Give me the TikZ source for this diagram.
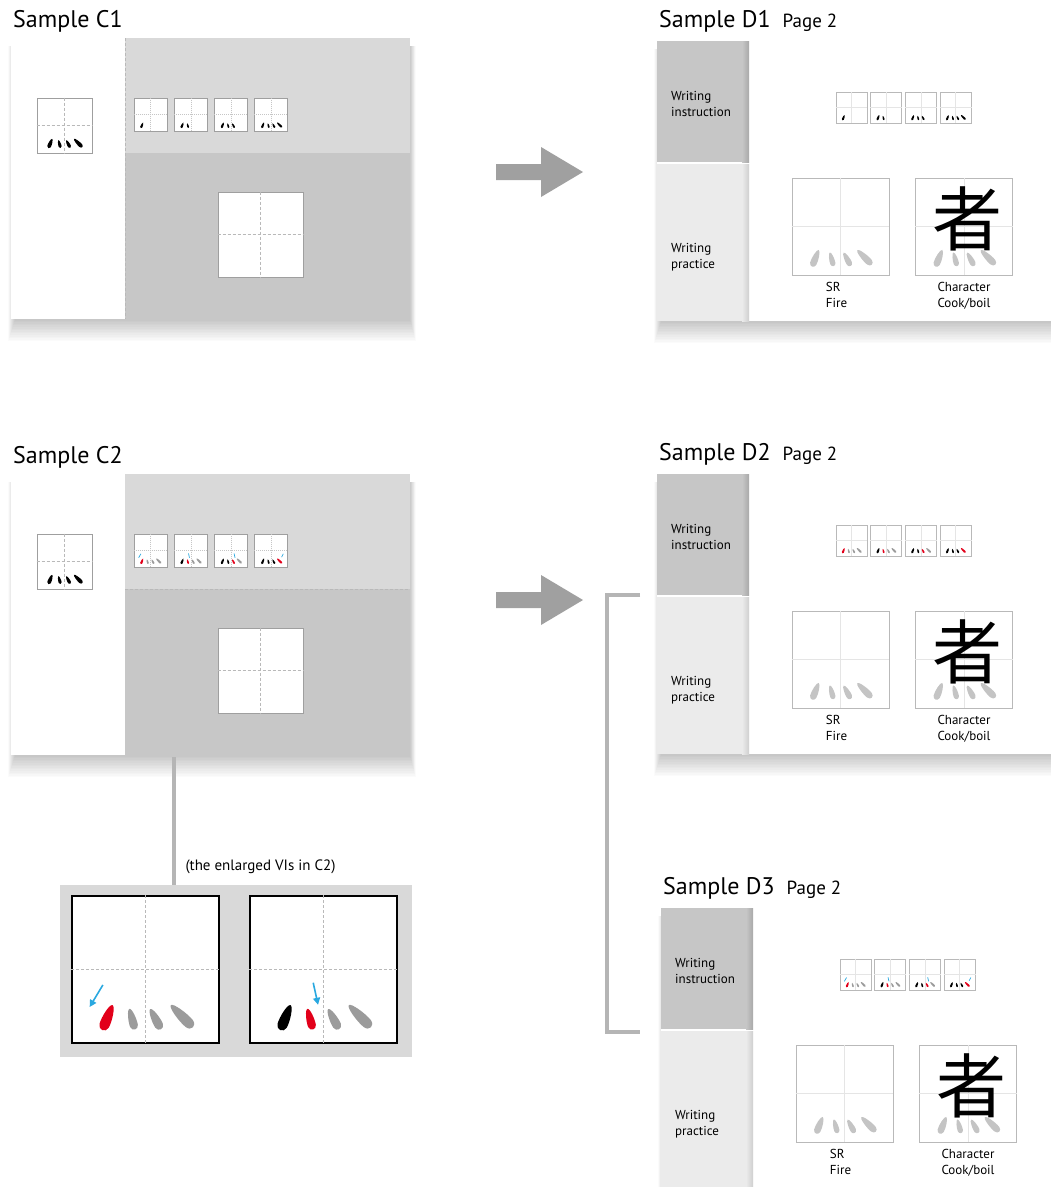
\documentclass[tikz,border=0pt]{standalone}
\usepackage{fontspec}
\setmainfont{PT Sans}
\newfontfamily\cjk{Noto Sans CJK SC}
\usetikzlibrary{positioning,calc,arrows.meta}

\definecolor{paneltop}{HTML}{D9D9D9}
\definecolor{panelbot}{HTML}{C7C7C7}
\definecolor{coltop}{HTML}{C6C6C6}
\definecolor{colbot}{HTML}{EBEBEB}
\definecolor{arrowgrey}{HTML}{A0A0A0}
\definecolor{linkgrey}{HTML}{B5B5B5}
\definecolor{inkred}{HTML}{E2001A}
\definecolor{cueblue}{HTML}{29A8E0}
\definecolor{dotgrey}{HTML}{9B9B9B}
\definecolor{ghostgrey}{HTML}{C4C4C4}

\tikzset{
  shadowlayer/.style={black, opacity=0.016},
  headline/.style={font=\fontsize{24}{24}\selectfont, anchor=base west, inner sep=0pt},
  notetext/.style={font=\fontsize{13}{16}\selectfont, align=left, inner sep=0pt},
  gridbox/.style={draw=gray!75, line width=1pt, fill=white, inner sep=0pt, minimum size=#1},
  pagebox/.style={gridbox=#1, draw=gray!55, line width=0.8pt},
  zoombox/.style={gridbox=#1, draw=black, line width=2pt},
  crossdash/.style={gray!55, line width=0.7pt, dash pattern=on 3pt off 2pt},
  crossdot/.style={gray!45, line width=0.5pt, dash pattern=on 1pt off 1pt},
  crossline/.style={gray!20, line width=0.6pt},
  linkline/.style={linkgrey, line width=4pt},
  inkdot/.style={fill=black},
  nowdot/.style={fill=inkred},
  restdot/.style={fill=dotgrey},
  ghostdot/.style={fill=ghostgrey},
  blank/.style={fill=none},
  cuetick/.style={cueblue, line width=0.7pt},
  cuearrow/.style={cueblue, line width=1.6pt, -{Triangle[length=7pt,width=7pt]}},
}

% soft shadow under a page: x0, y0, x1, y1
\newcommand\softshadow[4]{%
  \foreach \k in {1,...,14}
    \fill[shadowlayer] ({#1+4-0.5*\k},{#2+8}) rectangle ({#3+0.4*\k},{#4+1.6*\k});}

% one brush dot: style, x, y, tilt, half width, half length
\newcommand\dian[6]{%
  \fill[#1, shift={(#2,#3)}, rotate=#4, xscale=#5, yscale=#6]
    (0,-1) .. controls (0.55,-1) and (1,0.1) .. (0.85,0.6)
    .. controls (0.7,1.05) and (-0.7,1.05) .. (-0.85,0.6)
    .. controls (-1,0.1) and (-0.55,-1) .. cycle;}

% the four dots of the fire radical, in a box of side #2
\newcommand\huo[6]{%
  \begin{scope}[shift={(#1.center)}, scale=#2/100]
    \dian{#3}{-26}{33}{-22}{4}{9.5}
    \dian{#4}{-9}{34}{15}{3.2}{7.5}
    \dian{#5}{7}{34}{28}{3.4}{8}
    \dian{#6}{25}{32}{45}{4}{11}
  \end{scope}}

% a C sample page: prefix, top edge, label
\newcommand\cpage[3]{%
  \node[headline] (#1title) at (13,#2-10.5) {Sample #3};
  \softshadow{11}{#2}{410}{#2+281}
  \fill[white] (11,#2) rectangle (410,#2+281);
  \fill[paneltop] (125,#2) rectangle (410,#2+115);
  \fill[panelbot] (125,#2+115) rectangle (410,#2+281);
  \node[gridbox=55pt] (#1model) at (64.5,#2+87.5) {};
  \draw[crossdash] (#1model.north) -- (#1model.south) (#1model.west) -- (#1model.east);
  \huo{#1model}{55}{inkdot}{inkdot}{inkdot}{inkdot}
  \foreach \i in {1,...,4} {
    \node[gridbox=33pt] (#1mini\i) at ({150.5+40.3*(\i-1)},#2+76.5) {};
    \draw[crossdot] (#1mini\i.north) -- (#1mini\i.south) (#1mini\i.west) -- (#1mini\i.east);
  }
  \node[gridbox=85pt] (#1write) at (260.5,#2+196.5) {};
  \draw[crossdash] (#1write.north) -- (#1write.south) (#1write.west) -- (#1write.east);
}

% a D sample page: prefix, left edge, top edge, label
\newcommand\dpage[4]{%
  \node[headline] (#1title) at (#2+2,#3-13.5)
    {Sample #4\hspace{12pt}{\fontsize{19}{19}\selectfont Page 2}};
  \softshadow{#2}{#3}{1090}{#3+280}
  \fill[white] (#2,#3) rectangle (1090,#3+280);
  \fill[coltop] (#2,#3) rectangle (#2+92,#3+121);
  \fill[colbot] (#2,#3+123) rectangle (#2+92,#3+280);
  \shade[left color=coltop, right color=coltop!85!black] (#2+85,#3) rectangle (#2+92,#3+121);
  \shade[left color=colbot, right color=colbot!88!black] (#2+85,#3+123) rectangle (#2+92,#3+280);
  \node[notetext, anchor=west] (#1how) at (#2+14,#3+63) {Writing\\instruction};
  \node[notetext, anchor=west] (#1try) at (#2+14,#3+216) {Writing\\practice};
  \foreach \i in {1,...,4} {
    \node[pagebox=31pt] (#1mini\i) at ({#2+194.5+34.7*(\i-1)},#3+66.5) {};
    \draw[crossline] (#1mini\i.north) -- (#1mini\i.south) (#1mini\i.west) -- (#1mini\i.east);
  }
  \node[pagebox=97pt] (#1sr) at (#2+183.5,#3+185.5) {};
  \node[pagebox=97pt] (#1char) at (#2+307,#3+185.5) {};
  \draw[crossline] (#1sr.north) -- (#1sr.south) (#1sr.west) -- (#1sr.east);
  \draw[crossline] (#1char.north) -- (#1char.south) (#1char.west) -- (#1char.east);
  \huo{#1sr}{97}{ghostdot}{ghostdot}{ghostdot}{ghostdot}
  \huo{#1char}{97}{ghostdot}{ghostdot}{ghostdot}{ghostdot}
  \node[inner sep=0pt, font=\cjk\fontsize{70}{70}\selectfont] (#1glyph)
    at ($(#1char.center)+(3,-8)$) {者};
  \node[notetext, below=7pt of #1sr, xshift=-4pt] (#1srname) {SR\\Fire};
  \node[notetext, below=7pt of #1char] (#1charname) {Character\\Cook/boil};
}

\begin{document}
\begin{tikzpicture}[x=1pt, y=-1pt]
\useasboundingbox (0,0) rectangle (1051,1187);
\fill[white] (0,0) rectangle (1051,1187);

% C1: stroke order shown by growing black dots
\cpage{c1}{38}{C1}
\draw[crossdash] (125,38) -- (125,319);
\foreach \a/\b/\c/\d [count=\i] in {inkdot/blank/blank/blank, inkdot/inkdot/blank/blank,
    inkdot/inkdot/inkdot/blank, inkdot/inkdot/inkdot/inkdot}
  {\huo{c1mini\i}{33}{\a}{\b}{\c}{\d}}

% C2: current dot in red with a blue cue
\cpage{c2}{474}{C2}
\draw[crossdash] (125,589) -- (410,589);
\foreach \a/\b/\c/\d [count=\i] in {nowdot/restdot/restdot/restdot, inkdot/nowdot/restdot/restdot,
    inkdot/inkdot/nowdot/restdot, inkdot/inkdot/inkdot/nowdot}
  {\huo{c2mini\i}{33}{\a}{\b}{\c}{\d}}
\foreach \sx/\sy/\ex/\ey [count=\i] in {-29/10/-36/22, -7/9/-4/22, 9/9/12/22, 36/10/31/20}
  \draw[cuetick, shift={(c2mini\i.center)}, scale=0.33] (\sx,\sy) -- (\ex,\ey);

% enlarged boxes under C2
\coordinate (c2foot) at (174,757);
\node[fill=paneltop, minimum width=352pt, minimum height=172pt, inner sep=0pt] (zoomframe) at (236,971) {};
\draw[linkline] (c2foot) -- (c2foot |- zoomframe.north);
\node[font=\fontsize{15}{15}\selectfont, inner sep=0pt] (zoomnote) at (260.5,867) {(the enlarged VIs in C2)};
\node[zoombox=147pt] (zoomleft) at (145.5,969.5) {};
\node[zoombox=147pt] (zoomright) at (323.5,969.5) {};
\foreach \n in {zoomleft,zoomright}
  \draw[crossdash] (\n.north) -- (\n.south) (\n.west) -- (\n.east);
\huo{zoomleft}{147}{nowdot}{restdot}{restdot}{restdot}
\huo{zoomright}{147}{inkdot}{nowdot}{restdot}{restdot}
\draw[cuearrow, shift={(zoomleft.center)}, scale=1.47] (-29,10.5) -- (-38,25.5);
\draw[cuearrow, shift={(zoomright.center)}, scale=1.47] (-7,9) -- (-3.7,24);

% grey arrows between the columns
\fill[arrowgrey] (496,164) -- (541,164) -- (541,147) -- (583,172) -- (541,197) -- (541,180) -- (496,180) -- cycle;
\fill[arrowgrey] (496,592) -- (541,592) -- (541,575) -- (583,600) -- (541,625) -- (541,608) -- (496,608) -- cycle;

% D pages
\dpage{d1}{657}{41}{D1}
\foreach \a/\b/\c/\d [count=\i] in {inkdot/blank/blank/blank, inkdot/inkdot/blank/blank,
    inkdot/inkdot/inkdot/blank, inkdot/inkdot/inkdot/inkdot}
  {\huo{d1mini\i}{31}{\a}{\b}{\c}{\d}}

\dpage{d2}{657}{474}{D2}
\foreach \a/\b/\c/\d [count=\i] in {nowdot/restdot/restdot/restdot, inkdot/nowdot/restdot/restdot,
    inkdot/inkdot/nowdot/restdot, inkdot/inkdot/inkdot/nowdot}
  {\huo{d2mini\i}{31}{\a}{\b}{\c}{\d}}

\dpage{d3}{661}{908}{D3}
\foreach \a/\b/\c/\d [count=\i] in {nowdot/restdot/restdot/restdot, inkdot/nowdot/restdot/restdot,
    inkdot/inkdot/nowdot/restdot, inkdot/inkdot/inkdot/nowdot}
  {\huo{d3mini\i}{31}{\a}{\b}{\c}{\d}}
\foreach \sx/\sy/\ex/\ey [count=\i] in {-29/10/-36/22, -7/9/-4/22, 9/9/12/22, 36/10/31/20}
  \draw[cuetick, shift={(d3mini\i.center)}, scale=0.31] (\sx,\sy) -- (\ex,\ey);

% bracket grouping D2 and D3
\coordinate (brtop) at (640,595);
\coordinate (brbot) at (640,1032);
\draw[linkline] (brtop) -- ++(-33,0) |- (brbot);
\end{tikzpicture}
\end{document}
